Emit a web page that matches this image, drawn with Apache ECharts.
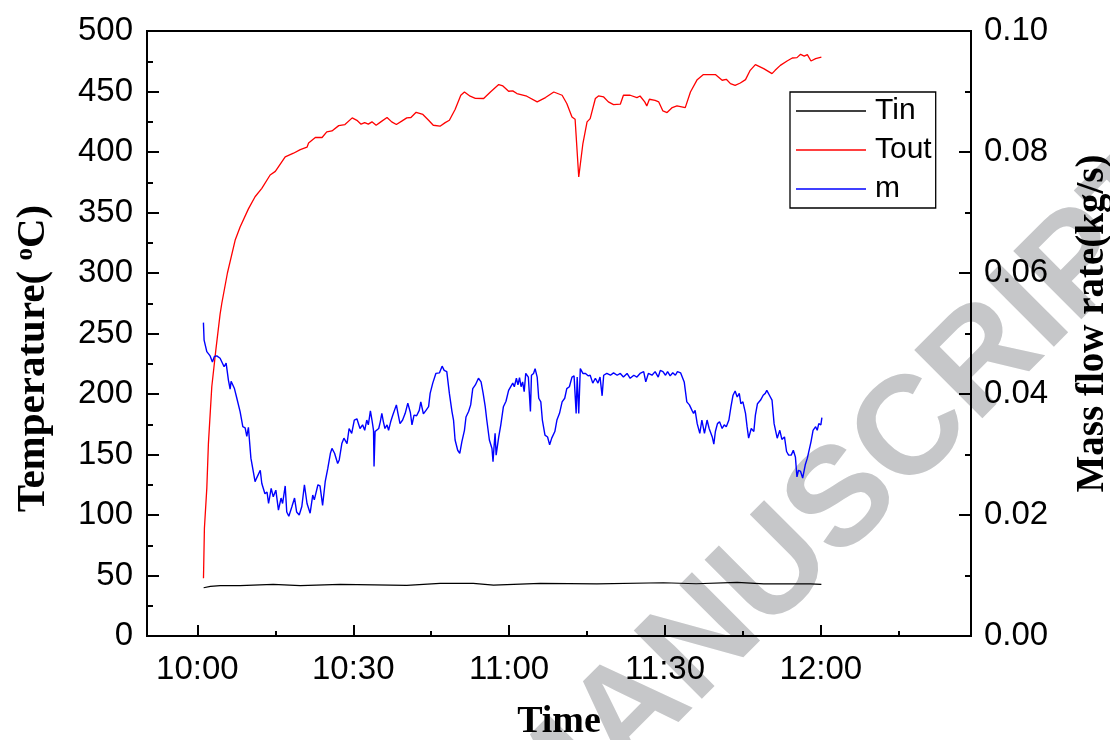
<!DOCTYPE html>
<html>
<head>
<meta charset="utf-8">
<script src="https://cdn.jsdelivr.net/npm/echarts@6/dist/echarts.min.js"></script>
<style>
  html, body { margin: 0; padding: 0; background: #fff; overflow: hidden; }
  #chart { width: 1110px; height: 740px; }
</style>
</head>
<body>
<div id="chart"></div>
<script>
// Time is given in minutes after 10:00.
const tickMinutes = [0, 30, 60, 90, 120];
const tickLabels = ['10:00', '10:30', '11:00', '11:30', '12:00'];
const minorTickMinutes = [15, 45, 75, 105, 135];

// Inlet temperature, °C
const tinTime = [1.2, 2.5, 4.4, 8.2, 14.6, 19.8, 27.5, 34, 40.3, 46.7, 53.1, 57, 66, 76.9, 89.7, 96, 103.9, 109, 118, 120.1];
const tinTemp = [39.9, 41.0, 41.6, 41.6, 42.7, 41.6, 42.7, 42.3, 41.9, 43.5, 43.5, 42.1, 43.5, 43.0, 44.0, 43.2, 44.3, 43.0, 43.0, 42.7];

// Outlet temperature, °C
const toutTime = [1.17, 1.35, 1.81, 2.12, 2.77, 3.54, 4.37, 4.7, 5.78, 7.26, 8.22, 9.82, 11.1, 12.4, 14.0, 15.0, 16.9, 18.5, 19.8, 21.1,
  21.4, 22.7, 24.0, 24.9, 25.9, 27.2, 28.4, 29.8, 30.7, 31.5, 32.2, 32.9, 33.6, 34.4, 35.3, 36.5, 37.4, 38.3, 39.4, 40.3,
  41.1, 42.1, 43.4, 44.5, 45.4, 46.7, 47.7, 48.5, 49.6, 50.7, 51.4, 52.5, 53.5, 55.1, 56.4, 58.0, 58.8, 59.9, 60.7, 61.5,
  63.4, 65.4, 67.0, 68.6, 70.2, 71.1, 72.1, 72.7, 73.4, 74.2, 75.0, 75.6, 76.6, 77.2, 78.2, 79.1, 80.1, 81.4, 82.0, 83.3,
  84.6, 85.2, 86.1, 86.5, 87.0, 88.1, 88.8, 89.6, 90.4, 91.4, 92.3, 93.9, 94.9, 96.2, 97.4, 99.7, 101.0, 101.8, 102.6, 103.5,
  104.5, 105.5, 106.4, 107.4, 109.0, 110.6, 111.2, 112.2, 113.5, 114.5, 115.4, 116.1, 116.8, 117.4, 118.1, 119.0, 120.1];
const toutTemp = [47.7, 89, 122, 159, 206, 236, 266, 275, 300, 327, 338, 353, 363, 370, 381, 384, 396, 399, 402, 404,
  407.5, 412, 412, 416.6, 417.4, 421.8, 422.7, 428.2, 426.2, 423, 424.3, 423, 424.9, 422.1, 424.9, 428.5, 424.9, 422.7, 425.7, 428.2,
  428.5, 432.8, 431, 426.2, 422.1, 421.3, 424.3, 426.2, 435.1, 446.9, 449.6, 446.1, 444.4, 444.2, 449.6, 455.7, 454.6, 450.2, 450.5, 448.3,
  446.1, 441.4, 445, 449.6, 446.9, 440.1, 429, 427.1, 379.4, 407, 424.9, 427.6, 444.2, 446.3, 445.5, 441.4, 439.2, 439.5, 446.9, 446.9,
  445, 446.3, 441.4, 438.1, 443.6, 442.7, 441.4, 433.9, 432.6, 436.7, 438.1, 436.7, 449.6, 459.8, 464, 464, 459.3, 460.1, 456.5, 455.1,
  457, 459.8, 467.5, 472.2, 468.9, 464.8, 467.5, 471.6, 475.2, 477.7, 478, 480.7, 479.3, 480.5, 475.2, 477.2, 478.5];

// Mass flow rate, kg/s
const mTime = [1.16, 1.29, 1.81, 2.45, 2.89, 3.27, 3.73, 4.37, 4.7, 5.14, 5.53, 5.97, 6.3, 6.49, 7.13, 7.59, 8.22, 8.74, 9.19, 9.51,
  9.82, 10.3, 11.1, 11.4, 12.1, 12.4, 13.0, 13.4, 13.7, 14.2, 14.6, 15.1, 15.6, 16.1, 16.4, 16.9, 17.2, 17.6, 18.2, 18.7,
  19.1, 19.6, 20.1, 20.6, 21.1, 21.7, 22.2, 22.5, 23.2, 23.6, 24.1, 24.6, 25.1, 25.6, 25.9, 26.4, 27.0, 27.3, 27.8, 28.2,
  28.8, 29.2, 29.7, 30.2, 30.7, 31.0, 31.3, 31.8, 32.2, 32.6, 32.9, 33.3, 33.6, 33.9, 34.0, 34.2, 34.5, 34.9, 35.2, 35.5,
  35.8, 36.1, 36.5, 36.8, 37.2, 37.6, 37.9, 38.3, 38.6, 39.0, 39.5, 40.0, 40.5, 41.0, 41.3, 41.7, 42.2, 42.7, 43.0, 43.5,
  44.0, 44.5, 44.8, 45.3, 45.9, 46.6, 47.1, 47.5, 48.0, 48.5, 49.0, 49.3, 49.6, 50.1, 50.5, 50.9, 51.4, 51.7, 52.2, 52.6,
  53.0, 53.5, 53.8, 54.1, 54.6, 55.0, 55.4, 55.7, 56.2, 56.7, 56.9, 57.1, 57.3, 57.5, 58.0, 58.4, 58.9, 59.4, 59.9, 60.2,
  60.7, 61.0, 61.4, 61.7, 62.0, 62.3, 62.6, 62.9, 63.2, 63.7, 64.1, 64.3, 64.7, 65.0, 65.4, 65.7, 66.1, 66.4, 66.9, 67.4,
  67.8, 68.2, 68.8, 69.2, 69.7, 70.2, 70.7, 71.1, 71.6, 72.1, 72.5, 72.9, 73.1, 73.4, 73.7, 74.2, 74.7, 75.2, 75.6, 76.1,
  76.6, 77.1, 77.5, 77.9, 78.2, 78.8, 79.5, 80.1, 80.8, 81.4, 82.0, 82.7, 83.3, 84.0, 84.6, 85.2, 85.9, 86.3, 86.8, 87.5,
  88.1, 88.7, 89.1, 89.6, 90.1, 90.5, 91.0, 91.5, 92.0, 92.4, 93.0, 93.3, 93.7, 94.2, 94.7, 95.2, 95.5, 95.8, 96.2, 96.7,
  97.1, 97.6, 98.1, 98.5, 99.1, 99.4, 99.7, 100.1, 100.5, 101.0, 101.4, 101.8, 102.3, 102.7, 103.1, 103.5, 103.9, 104.3, 104.6, 105.0,
  105.5, 105.8, 106.1, 106.6, 107.1, 107.4, 107.8, 108.4, 108.9, 109.3, 109.6, 110.1, 110.6, 111.0, 111.6, 112.1, 112.5, 113.0, 113.4, 113.8,
  114.3, 114.7, 115.1, 115.4, 115.7, 116.1, 116.5, 117.0, 117.4, 117.7, 118.1, 118.5, 119.0, 119.3, 119.6, 120.0, 120.2];
const mFlow = [0.0518, 0.0489, 0.0470, 0.0463, 0.0453, 0.0462, 0.0463, 0.0459, 0.0460, 0.0445, 0.0451, 0.0423, 0.0408, 0.0421, 0.0409, 0.0393, 0.0371, 0.0346, 0.0344, 0.0330,
  0.0345, 0.0294, 0.0255, 0.0261, 0.0274, 0.0252, 0.0235, 0.0238, 0.0219, 0.0244, 0.0230, 0.0241, 0.0208, 0.0228, 0.0219, 0.0248, 0.0205, 0.0198, 0.0214, 0.0228,
  0.0205, 0.0200, 0.0214, 0.0250, 0.0219, 0.0203, 0.0233, 0.0225, 0.0250, 0.0248, 0.0216, 0.0255, 0.0277, 0.0302, 0.0310, 0.0302, 0.0285, 0.0291, 0.0318, 0.0327,
  0.0318, 0.0343, 0.0335, 0.0357, 0.0359, 0.0362, 0.0343, 0.0349, 0.0340, 0.0357, 0.0349, 0.0372, 0.0357, 0.0340, 0.0280, 0.0338, 0.0340, 0.0343, 0.0354, 0.0368,
  0.0354, 0.0343, 0.0349, 0.0340, 0.0354, 0.0365, 0.0368, 0.0382, 0.0368, 0.0351, 0.0357, 0.0368, 0.0385, 0.0369, 0.0349, 0.0365, 0.0364, 0.0373, 0.0387, 0.0367,
  0.0373, 0.0379, 0.0401, 0.0418, 0.0434, 0.0435, 0.0446, 0.0439, 0.0437, 0.0401, 0.0371, 0.0357, 0.0324, 0.0307, 0.0302, 0.0321, 0.0340, 0.0362, 0.0371, 0.0382,
  0.0409, 0.0415, 0.0418, 0.0426, 0.0420, 0.0401, 0.0379, 0.0357, 0.0324, 0.0310, 0.0288, 0.0313, 0.0335, 0.0299, 0.0329, 0.0349, 0.0379, 0.0388, 0.0406, 0.0409,
  0.0418, 0.0412, 0.0426, 0.0415, 0.0427, 0.0412, 0.0420, 0.0404, 0.0434, 0.0428, 0.0371, 0.0431, 0.0434, 0.0442, 0.0428, 0.0393, 0.0387, 0.0357, 0.0332, 0.0329,
  0.0316, 0.0327, 0.0338, 0.0357, 0.0368, 0.0387, 0.0393, 0.0409, 0.0412, 0.0428, 0.0430, 0.0368, 0.0428, 0.0368, 0.0442, 0.0434, 0.0434, 0.0430, 0.0431, 0.0418,
  0.0426, 0.0418, 0.0428, 0.0397, 0.0431, 0.0434, 0.0431, 0.0435, 0.0431, 0.0434, 0.0428, 0.0434, 0.0426, 0.0431, 0.0428, 0.0434, 0.0437, 0.0420, 0.0434, 0.0431,
  0.0437, 0.0428, 0.0439, 0.0437, 0.0431, 0.0437, 0.0430, 0.0435, 0.0431, 0.0437, 0.0435, 0.0437, 0.0420, 0.0387, 0.0382, 0.0373, 0.0368, 0.0373, 0.0351, 0.0335,
  0.0357, 0.0335, 0.0357, 0.0343, 0.0329, 0.0317, 0.0338, 0.0351, 0.0354, 0.0343, 0.0349, 0.0346, 0.0357, 0.0379, 0.0398, 0.0405, 0.0395, 0.0401, 0.0384, 0.0387,
  0.0368, 0.0346, 0.0327, 0.0343, 0.0338, 0.0365, 0.0384, 0.0390, 0.0398, 0.0401, 0.0406, 0.0398, 0.0390, 0.0351, 0.0327, 0.0340, 0.0325, 0.0329, 0.0305, 0.0299,
  0.0299, 0.0307, 0.0296, 0.0263, 0.0274, 0.0272, 0.0261, 0.0283, 0.0294, 0.0291, 0.0321, 0.0340, 0.0346, 0.0340, 0.0351, 0.0349, 0.0361];

const zip = (xs, ys) => xs.map((x, i) => [x, ys[i]]);

const SANS = '"Liberation Sans", Arial, sans-serif';
const SERIF = '"Liberation Serif", "Times New Roman", serif';
const BLACK = '#000';

const chart = echarts.init(document.getElementById('chart'), null, { renderer: 'canvas' });

const tickStyle = { color: BLACK, width: 2 };
const axisLineStyle = { show: true, onZero: false, lineStyle: { color: BLACK, width: 2 } };

chart.setOption({
  animation: false,
  backgroundColor: '#fff',
  grid: {
    left: 147, right: 139, top: 31, bottom: 104,
    containLabel: false,
    outerBoundsMode: 'none',
    show: true, borderColor: BLACK, borderWidth: 2, backgroundColor: 'transparent'
  },
  graphic: {
    elements: [{
      type: 'text',
      x: 1174, y: 172,
      rotation: Math.PI / 4,
      z: -10,
      silent: true,
      style: {
        text: 'ACCEPTED MANUSCRIPT',
        font: 'bold 140px ' + SANS,
        fill: '#c6c7c9',
        align: 'right',
        verticalAlign: 'middle'
      }
    }]
  },
  legend: {
    orient: 'vertical',
    left: 790, top: 92,
    padding: [4, 4, 4, 6],
    itemGap: 9,
    itemWidth: 70,
    itemHeight: 1.6,
    icon: 'rect',
    backgroundColor: '#fff',
    borderColor: BLACK,
    borderWidth: 1.3,
    borderRadius: 0,
    textStyle: { fontFamily: SANS, fontSize: 30, color: BLACK, lineHeight: 30, padding: [0, 0, 0, 4] },
    data: ['Tin', 'Tout', 'm']
  },
  xAxis: [{
    type: 'value',
    min: -9.7, max: 148.9,
    name: 'Time',
    nameLocation: 'middle',
    nameGap: 67,
    nameTextStyle: { fontFamily: SERIF, fontWeight: 'bold', fontSize: 38, color: BLACK },
    axisLine: axisLineStyle,
    axisTick: { show: true, inside: true, length: 11, lineStyle: tickStyle, customValues: tickMinutes },
    axisLabel: {
      show: true, margin: 17, fontFamily: SANS, fontSize: 33, color: BLACK,
      customValues: tickMinutes,
      formatter: v => tickLabels[tickMinutes.indexOf(Math.round(v))] || ''
    },
    splitLine: { show: false }
  }, {
    type: 'value',
    min: -9.7, max: 148.9,
    position: 'bottom',
    axisLine: { show: false, onZero: false },
    axisTick: { show: true, inside: true, length: 5, lineStyle: tickStyle, customValues: minorTickMinutes },
    axisLabel: { show: false },
    splitLine: { show: false }
  }],
  yAxis: [{
    type: 'value',
    min: 0, max: 500, interval: 50,
    name: 'Temperature( {sup|o}C)',
    nameLocation: 'middle',
    nameGap: 93,
    nameTextStyle: {
      fontFamily: SERIF, fontWeight: 'bold', fontSize: 41, color: BLACK,
      padding: [0, 50, 0, 0],
      rich: { sup: { fontFamily: SERIF, fontWeight: 'bold', fontSize: 25, color: BLACK, verticalAlign: 'top' } }
    },
    axisLine: axisLineStyle,
    axisTick: { show: true, inside: true, length: 12, lineStyle: tickStyle },
    minorTick: { show: true, splitNumber: 2, length: 6, lineStyle: tickStyle },
    axisLabel: { margin: 14, fontFamily: SANS, fontSize: 33, color: BLACK },
    splitLine: { show: false }
  }, {
    type: 'value',
    min: 0, max: 0.1, interval: 0.02,
    position: 'right',
    name: 'Mass flow rate(kg/s)',
    nameLocation: 'middle',
    nameGap: 102,
    nameTextStyle: { fontFamily: SERIF, fontWeight: 'bold', fontSize: 39, color: BLACK, padding: [0, 0, 0, 20] },
    axisLine: axisLineStyle,
    axisTick: { show: true, inside: true, length: 12, lineStyle: tickStyle },
    minorTick: { show: true, splitNumber: 2, length: 6, lineStyle: tickStyle },
    axisLabel: { margin: 13, fontFamily: SANS, fontSize: 33, color: BLACK, formatter: v => v.toFixed(2) },
    splitLine: { show: false }
  }],
  series: [{
    name: 'Tin', type: 'line', symbol: 'none', xAxisIndex: 0, yAxisIndex: 0,
    data: zip(tinTime, tinTemp),
    itemStyle: { color: BLACK }, lineStyle: { color: BLACK, width: 1.2 }
  }, {
    name: 'Tout', type: 'line', symbol: 'none', xAxisIndex: 0, yAxisIndex: 0,
    data: zip(toutTime, toutTemp),
    itemStyle: { color: '#ff0000' }, lineStyle: { color: '#ff0000', width: 1.3 }
  }, {
    name: 'm', type: 'line', symbol: 'none', xAxisIndex: 0, yAxisIndex: 1,
    data: zip(mTime, mFlow),
    itemStyle: { color: '#0000ff' }, lineStyle: { color: '#0000ff', width: 1.4 }
  }]
});
</script>
</body>
</html>
